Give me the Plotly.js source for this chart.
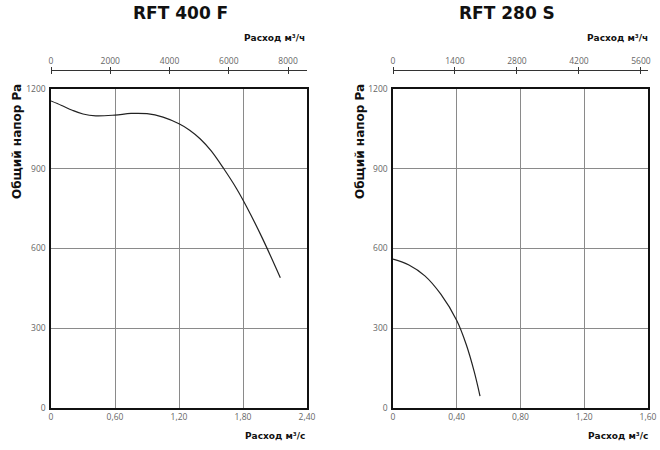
<!DOCTYPE html>
<html><head><meta charset="utf-8">
<script src="https://cdn.plot.ly/plotly-3.0.1.min.js"></script>
<style>body{margin:0;background:#fff}#c{width:660px;height:450px}</style></head>
<body><div id="c"></div>
<script>
// ---- data ----
const leftTitle = "RFT 400 F";
const rightTitle = "RFT 280 S";
const leftFlow = [0, 0.1, 0.2, 0.3, 0.42, 0.6, 0.75, 0.9, 1.05, 1.2, 1.3, 1.4, 1.5, 1.62, 1.74, 1.83, 1.98, 2.15];
const leftPressure = [1155, 1138, 1120, 1106, 1099, 1102, 1108, 1107, 1094, 1069, 1045, 1012, 968, 900, 825, 760, 640, 490];
const rightFlow = [0, 0.1, 0.2, 0.3, 0.4, 0.46, 0.51, 0.546];
const rightPressure = [560, 538, 497, 428, 329, 238, 136, 45];

const yTickVals = [0, 300, 600, 900, 1200];
const yTickText = ["0", "300", "600", "900", "1200"];
const leftXTickVals = [0, 0.6, 1.2, 1.8, 2.4];
const leftXTickText = ["0", "0,60", "1,20", "1,80", "2,40"];
const rightXTickVals = [0, 0.4, 0.8, 1.2, 1.6];
const rightXTickText = ["0", "0,40", "0,80", "1,20", "1,60"];
const leftTopTickVals = [0, 2000, 4000, 6000, 8000];
const rightTopTickVals = [0, 1400, 2800, 4200, 5600];
const leftTopMax = 8640;   // 2.4 m3/s in m3/h
const rightTopMax = 5760;  // 1.6 m3/s in m3/h
const yLabel = "Общий напор Pa";
const xLabelTop = "Расход м³/ч";
const xLabelBottom = "Расход м³/с";

// ---- layout ----
const W = 660, H = 450;
const dL = [51 / W, 307 / W], dR = [393 / W, 648 / W];
const yDom = [(H - 408) / H, (H - 89) / H];
const topPos = (H - 70) / H;
const tickFont = {family: "Open Sans", size: 8.5, color: "#666"};

function mainX(dom, vals, text, yref) {
  return {domain: dom, anchor: yref, range: [0, vals[vals.length - 1]], tickvals: vals, ticktext: text,
    showgrid: true, gridcolor: "#8a8a8a", gridwidth: 1, zeroline: false, showline: true, mirror: true,
    linecolor: "#111", linewidth: 1.6, ticks: "", tickfont: tickFont, fixedrange: true};
}
function mainY(xref) {
  return {domain: yDom, anchor: xref, range: [0, 1200], tickvals: yTickVals, ticktext: yTickText,
    showgrid: true, gridcolor: "#8a8a8a", gridwidth: 1, zeroline: false, showline: true, mirror: true,
    linecolor: "#111", linewidth: 1.6, ticks: "", tickfont: tickFont, ticklabelstandoff: 2, fixedrange: true};
}
function topX(over, dom, max, vals, side, labels) {
  return {overlaying: over, domain: dom, anchor: "free", position: topPos, side: side,
    range: [0, max], tickvals: vals, ticktext: vals.map(String), showgrid: false, zeroline: false,
    showline: true, linecolor: "#333", linewidth: 1, ticks: "outside", ticklen: 3, tickcolor: "#333",
    tickwidth: 1, showticklabels: labels, tickfont: tickFont, fixedrange: true};
}

const line = {color: "#222", width: 1.2, shape: "spline", smoothing: 1};
const traces = [
  {x: leftFlow, y: leftPressure, xaxis: "x", yaxis: "y", mode: "lines", line: line, hoverinfo: "skip"},
  {x: rightFlow, y: rightPressure, xaxis: "x2", yaxis: "y2", mode: "lines", line: line, hoverinfo: "skip"},
  {x: [], y: [], xaxis: "x3", yaxis: "y", mode: "lines", hoverinfo: "skip"},
  {x: [], y: [], xaxis: "x4", yaxis: "y", mode: "lines", hoverinfo: "skip"},
  {x: [], y: [], xaxis: "x5", yaxis: "y2", mode: "lines", hoverinfo: "skip"},
  {x: [], y: [], xaxis: "x6", yaxis: "y2", mode: "lines", hoverinfo: "skip"}
];

const heavy = "DejaVu Sans";
const bold = {family: heavy, size: 9, color: "#111", weight: "bold"};
const titleFont = {family: heavy, size: 17, weight: "bold", color: "#111"};
const ylFont = {family: heavy, size: 12, weight: "bold", color: "#111"};
function pa(text, x, y, xanchor, font, angle) {
  return {text: text, x: x / W, y: 1 - y / H, xref: "paper", yref: "paper", showarrow: false,
    xanchor: xanchor, yanchor: "middle", font: font, textangle: angle || 0};
}
const ann = [
  pa(leftTitle, 180, 13, "center", titleFont),
  pa(rightTitle, 507, 13, "center", titleFont),
  pa(xLabelTop, 307, 38, "right", bold),
  pa(xLabelTop, 650, 38, "right", bold),
  pa(xLabelBottom, 307, 436, "right", bold),
  pa(xLabelBottom, 650, 436, "right", bold),
  pa(yLabel, 17, 142, "center", ylFont, -90),
  pa(yLabel, 360, 142, "center", ylFont, -90)
];

const layout = {
  width: W, height: H, margin: {l: 0, r: 0, t: 0, b: 0}, showlegend: false,
  paper_bgcolor: "#fff", plot_bgcolor: "#fff", separators: ", ",
  xaxis: mainX(dL, leftXTickVals, leftXTickText, "y"),
  yaxis: mainY("x"),
  xaxis2: mainX(dR, rightXTickVals, rightXTickText, "y2"),
  yaxis2: mainY("x2"),
  xaxis3: topX("x", dL, leftTopMax, leftTopTickVals, "top", true),
  xaxis4: topX("x", dL, leftTopMax, leftTopTickVals, "bottom", false),
  xaxis5: topX("x2", dR, rightTopMax, rightTopTickVals, "top", true),
  xaxis6: topX("x2", dR, rightTopMax, rightTopTickVals, "bottom", false),
  annotations: ann
};
Plotly.newPlot("c", traces, layout, {displayModeBar: false, staticPlot: true});
</script></body></html>
